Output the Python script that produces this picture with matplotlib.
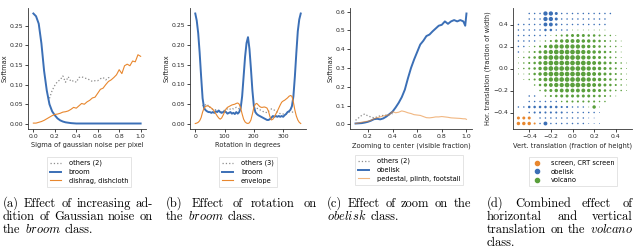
import numpy as np
import matplotlib
matplotlib.use('Agg')
from matplotlib import pyplot as plt
from matplotlib.lines import Line2D

# ---------------- data ----------------
# (a) gaussian noise
sigma = [0.0, 0.025, 0.05, 0.075, 0.1, 0.125, 0.15, 0.175, 0.2, 0.225, 0.25, 0.275, 0.3, 0.325,
         0.35, 0.375, 0.4, 0.425, 0.45, 0.475, 0.5, 0.525, 0.55, 0.575, 0.6, 0.625, 0.65, 0.675,
         0.7, 0.725, 0.75, 0.775, 0.8, 0.825, 0.85, 0.875, 0.9, 0.925, 0.95, 0.975, 1.0]
noise_broom = [0.281, 0.274, 0.255, 0.205, 0.135, 0.085, 0.050, 0.032, 0.022, 0.014, 0.009, 0.006,
               0.004, 0.003, 0.002, 0.0015, 0.001, 0.001, 0.001, 0.001, 0.001, 0.001, 0.001, 0.001,
               0.001, 0.001, 0.001, 0.001, 0.001, 0.001, 0.001, 0.001, 0.001, 0.001, 0.001, 0.001,
               0.001, 0.001, 0.001, 0.001, 0.001]
noise_dishrag = [0.002, 0.002, 0.004, 0.006, 0.009, 0.013, 0.017, 0.021, 0.024, 0.025, 0.027, 0.030,
                 0.031, 0.033, 0.037, 0.042, 0.040, 0.046, 0.052, 0.050, 0.056, 0.060, 0.066, 0.068,
                 0.078, 0.088, 0.091, 0.100, 0.108, 0.112, 0.118, 0.125, 0.138, 0.128, 0.148, 0.152,
                 0.148, 0.160, 0.158, 0.176, 0.172]
noise_others = [np.nan, np.nan, np.nan, np.nan, np.nan, np.nan, 0.065, 0.085, 0.098, 0.108, 0.112, 0.122,
                0.106, 0.120, 0.108, 0.110, 0.106, 0.118, 0.120, 0.117, 0.115, 0.112, 0.108, 0.110,
                0.110, 0.115, 0.118, 0.112, 0.118, 0.115, np.nan, np.nan, np.nan, np.nan, np.nan,
                np.nan, np.nan, np.nan, np.nan, np.nan, np.nan]

# (b) rotation
angle = list(range(0, 361, 5))
rot_broom = [0.280, 0.262, 0.230, 0.180, 0.120, 0.065, 0.040, 0.035, 0.032, 0.030, 0.030, 0.028,
             0.030, 0.028, 0.032, 0.030, 0.034, 0.030, 0.028, 0.030, 0.032, 0.030, 0.026, 0.028,
             0.030, 0.026, 0.028, 0.025, 0.030, 0.026, 0.030, 0.040, 0.070, 0.120, 0.170, 0.205,
             0.220, 0.190, 0.140, 0.085, 0.045, 0.030, 0.025, 0.022, 0.020, 0.018, 0.016, 0.014,
             0.012, 0.010, 0.010, 0.012, 0.016, 0.020, 0.018, 0.020, 0.018, 0.020, 0.018, 0.020,
             0.018, 0.022, 0.025, 0.030, 0.032, 0.036, 0.045, 0.070, 0.120, 0.180, 0.235, 0.265,
             0.280]
rot_envelope = [0.001, 0.002, 0.004, 0.008, 0.016, 0.030, 0.040, 0.044, 0.046, 0.045, 0.043, 0.040,
                0.037, 0.032, 0.026, 0.020, 0.015, 0.012, 0.015, 0.022, 0.030, 0.038, 0.042, 0.044,
                0.046, 0.048, 0.049, 0.050, 0.052, 0.053, 0.050, 0.040, 0.025, 0.012, 0.005, 0.002,
                0.001, 0.003, 0.010, 0.025, 0.042, 0.050, 0.052, 0.048, 0.044, 0.042, 0.042, 0.043,
                0.042, 0.040, 0.032, 0.018, 0.010, 0.012, 0.018, 0.025, 0.032, 0.040, 0.048, 0.055,
                0.058, 0.060, 0.063, 0.066, 0.070, 0.072, 0.070, 0.055, 0.035, 0.020, 0.010, 0.004,
                0.001]
rot_others = [np.nan, np.nan, np.nan, np.nan, np.nan, 0.045, 0.050, 0.048, 0.045, 0.048, 0.042, 0.040,
              0.036, 0.035, 0.036, 0.035, 0.032, 0.030, 0.030, 0.032, 0.035, 0.036, 0.038, 0.036,
              0.038, 0.040, 0.038, 0.040, 0.042, 0.040, 0.038, np.nan, np.nan, np.nan, np.nan, np.nan,
              np.nan, np.nan, np.nan, np.nan, 0.040, 0.042, 0.040, 0.038, 0.036, 0.034, 0.032, 0.030,
              0.030, 0.028, 0.032, 0.035, 0.038, 0.036, 0.035, 0.032, 0.030, 0.028, 0.026, 0.025,
              0.025, 0.025, 0.025, 0.028, 0.030, 0.030, 0.030, 0.030, np.nan, np.nan, np.nan, np.nan,
              np.nan]

# (c) zoom
zoom = [0.1, 0.125, 0.15, 0.175, 0.2, 0.225, 0.25, 0.275, 0.3, 0.325, 0.35, 0.375, 0.4, 0.425,
        0.45, 0.475, 0.5, 0.525, 0.55, 0.575, 0.6, 0.625, 0.65, 0.675, 0.7, 0.725, 0.75, 0.775,
        0.8, 0.825, 0.85, 0.875, 0.9, 0.925, 0.95, 0.975, 0.99, 1.0]
zoom_obelisk = [0.005, 0.006, 0.007, 0.010, 0.014, 0.020, 0.028, 0.030, 0.027, 0.032, 0.042, 0.055,
                0.068, 0.090, 0.115, 0.145, 0.185, 0.245, 0.300, 0.345, 0.385, 0.425, 0.445, 0.470,
                0.478, 0.495, 0.510, 0.525, 0.530, 0.548, 0.535, 0.548, 0.555, 0.548, 0.555, 0.548,
                0.525, 0.590]
zoom_pedestal = [0.005, 0.008, 0.012, 0.015, 0.017, 0.022, 0.030, 0.036, 0.040, 0.045, 0.048, 0.052,
                 0.068, 0.062, 0.065, 0.072, 0.068, 0.062, 0.058, 0.052, 0.050, 0.048, 0.042, 0.036,
                 0.035, 0.037, 0.040, 0.040, 0.042, 0.040, 0.038, 0.035, 0.034, 0.033, 0.032, 0.030,
                 0.030, 0.027]
zoom_others = [0.022, 0.035, 0.048, 0.056, 0.045, 0.040, 0.035, 0.040, 0.046, 0.048, 0.050, 0.052,
               0.058, np.nan, np.nan, np.nan, np.nan, np.nan, np.nan, np.nan, np.nan, np.nan, np.nan,
               np.nan, np.nan, np.nan, np.nan, np.nan, np.nan, np.nan, np.nan, np.nan, np.nan, np.nan,
               np.nan, np.nan, np.nan, np.nan]

# (d) translation grid: columns = vertical shift -0.5..0.5, rows = horizontal shift 0.5..-0.5
shift = [-0.5, -0.45, -0.4, -0.35, -0.3, -0.25, -0.2, -0.15, -0.1, -0.05, 0.0,
         0.05, 0.1, 0.15, 0.2, 0.25, 0.3, 0.35, 0.4, 0.45, 0.5]
# o = screen, b = obelisk, g = volcano
top_class = [
    "..bbbbbbbbbbbbbbbb...",
    "..bbbbbbbbbbbbbbb....",
    "bbbbbbbbbbbbbbbbb....",
    "bbbbbbbbbbggggggg....",
    "bbbbbbggggggggggggg..",
    "bbbbgggggggggggggggg.",
    "bbgggggggggggggggggg.",
    "bggggggggggggggggggg.",
    "gggggggggggggggggggg.",
    "ggggggggggggggggggggg",
    "ggggggggggggggggggggg",
    "ggggggggggggggggggggg",
    ".gggggggggggggggggggg",
    "...gggggggggggggggggg",
    "....ggggggggggggggggg",
    "..bb.gggggggggggggg..",
    "..bbbbbbggggggggg....",
    "bbbbbbbbbbbbbggg.....",
    "..bbbbbbbbbbbbbb.....",
    "ooo.bbbbbbbbbbb......",
    "oooobbbbbbbbbbbb.....",
]
# softmax of the top class, in tenths
prob_level = [
    "002228852222222222000",
    "002228852222222220000",
    "222227742222222220000",
    "222224422211111110000",
    "222222123455544322100",
    "222212356777665432210",
    "221235788888765432210",
    "212357899999876543210",
    "123468999999876543210",
    "123468999999987654321",
    "123468999999987654321",
    "112468999999987654321",
    "012357899999987654321",
    "000246788999887654321",
    "000024567777766543221",
    "002202345555554432100",
    "002222222333333221000",
    "224444443322216100000",
    "002333333222222100000",
    "555022222222211000000",
    "666327222222211100000",
]
class_names = {"o": "screen, CRT screen", "b": "obelisk", "g": "volcano"}

blue = "#3b6fb6"
orange = "#e8872e"
green = "#5a9f3c"
grey = "#8c8c8c"
class_colors = {"o": orange, "b": blue, "g": green}

# ---------------- style ----------------
fs = 4.8
plt.rcParams.update({
    "font.family": "DejaVu Sans",
    "font.size": fs,
    "axes.linewidth": 0.6,
    "axes.edgecolor": "#333333",
    "xtick.major.width": 0.6,
    "ytick.major.width": 0.6,
    "xtick.major.size": 2.2,
    "ytick.major.size": 2.2,
    "xtick.labelsize": 4.4,
    "ytick.labelsize": 4.4,
    "xtick.color": "#262626",
    "ytick.color": "#262626",
    "axes.labelcolor": "#262626",
    "axes.labelsize": fs,
    "legend.fontsize": fs,
    "mathtext.fontset": "cm",
})

fig = plt.figure(figsize=(6.4, 2.5), dpi=100)
W, H = 640.0, 250.0


def make_axes(left, right, top=8, bottom=129):
    ax = fig.add_axes([left / W, 1 - bottom / H, (right - left) / W, (bottom - top) / H])
    ax.spines['top'].set_visible(False)
    ax.spines['right'].set_visible(False)
    ax.tick_params(pad=1.2)
    ax.xaxis.labelpad = 2.5
    ax.yaxis.labelpad = 1.5
    return ax


def add_legend(ax, handles, labels, cx, top):
    leg = ax.legend(handles, labels, loc='upper center', bbox_to_anchor=(cx / W, 1 - top / H),
                    bbox_transform=fig.transFigure, frameon=True, fancybox=False,
                    edgecolor='#d0d0d0', handlelength=1.6, borderpad=0.45, labelspacing=0.4,
                    handletextpad=1.2, borderaxespad=0)
    leg.get_frame().set_linewidth(0.5)


# (a)
ax = make_axes(28, 146)
others_a, = ax.plot(sigma, noise_others, color=grey, linestyle=':', linewidth=0.9)
broom_a, = ax.plot(sigma, noise_broom, color=blue, linewidth=1.4)
dish_a, = ax.plot(sigma, noise_dishrag, color=orange, linewidth=0.8)
ax.set_xticks([0.0, 0.2, 0.4, 0.6, 0.8, 1.0])
ax.set_yticks([0.0, 0.05, 0.10, 0.15, 0.20, 0.25])
ax.yaxis.set_major_formatter(matplotlib.ticker.FormatStrFormatter('%.2f'))
ax.set_xlabel("Sigma of gaussian noise per pixel")
ax.set_ylabel("Softmax")
add_legend(ax, [others_a, broom_a, dish_a], ["others (2)", "broom", "dishrag, dishcloth"], 89, 157)

# (b)
ax = make_axes(190, 306)
others_b, = ax.plot(angle, rot_others, color=grey, linestyle=':', linewidth=0.9)
broom_b, = ax.plot(angle, rot_broom, color=blue, linewidth=1.4)
env_b, = ax.plot(angle, rot_envelope, color=orange, linewidth=0.8)
ax.set_xticks([0, 100, 200, 300])
ax.set_yticks([0.0, 0.05, 0.10, 0.15, 0.20, 0.25])
ax.yaxis.set_major_formatter(matplotlib.ticker.FormatStrFormatter('%.2f'))
ax.set_xlabel("Rotation in degrees")
ax.set_ylabel("Softmax")
add_legend(ax, [others_b, broom_b, env_b], ["others (3)", "broom", "envelope"], 248, 157)

# (c)
ax = make_axes(350, 472)
others_c, = ax.plot(zoom, zoom_others, color=grey, linestyle=':', linewidth=0.9)
obel_c, = ax.plot(zoom, zoom_obelisk, color=blue, linewidth=1.4)
ped_c, = ax.plot(zoom, zoom_pedestal, color=orange, linewidth=0.8, alpha=0.6)
ax.set_xticks([0.2, 0.4, 0.6, 0.8, 1.0])
ax.set_yticks([0.0, 0.1, 0.2, 0.3, 0.4, 0.5, 0.6])
ax.set_xlabel("Zooming to center (visible fraction)")
ax.set_ylabel("Softmax")
add_legend(ax, [others_c, obel_c, ped_c], ["others (2)", "obelisk", "pedestal, plinth, footstall"], 409, 155)

# (d)
ax = make_axes(513, 632)
hor = shift[::-1]
handles = []
for key in ["o", "b", "g"]:
    xs, ys, ss = [], [], []
    for i, row in enumerate(top_class):
        for j, c in enumerate(row):
            if c == key:
                lvl = int(prob_level[i][j])
                xs.append(shift[j])
                ys.append(hor[i])
                ss.append(0.42 * lvl ** 1.5)
    ax.scatter(xs, ys, s=ss, color=class_colors[key], linewidths=0)
    handles.append(Line2D([], [], linestyle='', marker='o', markersize=3.0, color=class_colors[key]))
ax.set_xlim(-0.55, 0.55)
ax.set_ylim(-0.55, 0.55)
ax.set_xticks([-0.4, -0.2, 0.0, 0.2, 0.4])
ax.set_yticks([-0.4, -0.2, 0.0, 0.2, 0.4])
ax.set_xlabel("Vert. translation (fraction of height)")
ax.set_ylabel("Hor. translation (fraction of width)")
add_legend(ax, handles, [class_names[k] for k in ["o", "b", "g"]], 573, 157)

# ---------------- captions ----------------
renderer = fig.canvas.get_renderer()
cap_kw = dict(family="cmr10", size=9.0, color="black", va="baseline", ha="left")


def text_width(s, y):
    t = fig.text(0, y, s, **cap_kw)
    w = t.get_window_extent(renderer).width
    t.remove()
    return w


def caption(lines, x0, x1, y0, step=13):
    for i, (line, justify) in enumerate(lines):
        y = 1 - (y0 + i * step) / H
        words = line.split(' ')
        widths = [text_width(w, y) for w in words]
        sp = text_width("a a", y) - text_width("aa", y)
        if justify and len(words) > 1:
            gap = max((x1 - x0 - sum(widths)) / (len(words) - 1), 0.8 * sp)
        else:
            gap = sp
        x = x0
        for w, wd in zip(words, widths):
            fig.text(x / W, y, w, **cap_kw)
            x += wd + gap


caption([("(a) Effect of increasing ad-", True),
         ("dition of Gaussian noise on", True),
         (r"the $\mathit{broom}$ class.", False)], 3, 153, 207)
caption([("(b) Effect of rotation on", True),
         (r"the $\mathit{broom}$ class.", False)], 166, 317, 207)
caption([("(c) Effect of zoom on the", True),
         (r"$\mathit{obelisk}$ class.", False)], 327, 471, 207)
caption([("(d) Combined effect of", True),
         ("horizontal and vertical", True),
         (r"translation on the $\mathit{volcano}$", True),
         ("class.", False)], 487, 633, 207)

fig.savefig("out.png", dpi=100)
